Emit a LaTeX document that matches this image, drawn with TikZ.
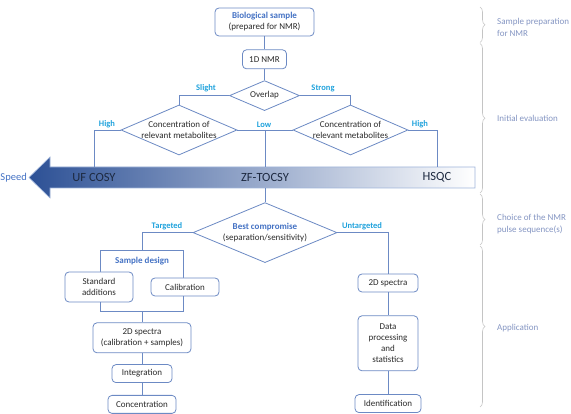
\documentclass[tikz,border=0pt]{standalone}
\usepackage{fontspec}
\setmainfont{Carlito}
\usetikzlibrary{shapes.geometric, positioning, decorations.pathreplacing}
\definecolor{boxline}{HTML}{6C8AC4}
\definecolor{titleblue}{HTML}{4472C4}
\definecolor{branchcyan}{HTML}{1FA2DC}
\definecolor{phasetxt}{HTML}{8495C2}
\definecolor{bracegray}{HTML}{C4C4C4}
\definecolor{arrowdark}{HTML}{2C5095}
\definecolor{arrowmid}{HTML}{A7BBE0}
\definecolor{arrowedge}{HTML}{9FB4DA}
\definecolor{techtxt}{HTML}{1D2940}
\definecolor{bodytxt}{HTML}{2B2B2B}
\tikzset{
  pbox/.style   ={rectangle, rounded corners=4pt, draw=boxline, fill=white, line width=0.8pt,
                  align=center, inner sep=0pt, text=bodytxt, font=\fontsize{9}{11}\selectfont},
  dbox/.style   ={diamond, draw=boxline, fill=white, line width=0.8pt, inner sep=-1pt,
                  align=center, text=bodytxt, font=\fontsize{9}{11}\selectfont},
  grp/.style    ={rectangle, draw=boxline, line width=0.8pt, inner sep=0pt},
  ttl/.style    ={text=titleblue, font=\fontsize{9}{11}\selectfont\bfseries, inner sep=0pt},
  branch/.style ={text=branchcyan, font=\fontsize{8.5}{10}\selectfont\bfseries, inner sep=0pt},
  tech/.style   ={text=techtxt, font=\fontsize{12.5}{14}\selectfont, inner sep=0pt, minimum height=21pt},
  phase/.style  ={text=phasetxt, anchor=west, align=left, inner sep=0pt, font=\fontsize{9}{11.5}\selectfont},
  brk/.style    ={draw=bracegray, line width=0.6pt, decorate, decoration={brace, amplitude=5pt}},
  link/.style   ={draw=boxline, line width=0.8pt},
}

\begin{document}
\begin{tikzpicture}[x=1pt, y=-1pt]
    \useasboundingbox (0,0) rectangle (571,414);
    % speed arrow
    \shade[left color=arrowdark, middle color=arrowmid, right color=white, draw=arrowedge, line width=0.6pt]
      (475,167) -- (50,167) -- (50,157) -- (29,177.5) -- (50,198) -- (50,188) -- (475,188) -- cycle;
    \node[tech] (ufc) at (94,177.5) {UF COSY};
    \node[tech] (zf) at (265,177.5) {ZF-TOCSY};
    \node[tech] (hsqc) at (437,177.5) {HSQC};
    \node[tech, text=titleblue, font=\fontsize{10.5}{12}\selectfont, anchor=east] (spd) at (27,177.5) {Speed};
    % initial evaluation
    \node[pbox, minimum width=99pt, minimum height=28pt] (bio) at (264.5,22)
      {\textcolor{titleblue}{\textbf{Biological sample}}\\(prepared for NMR)};
    \node[pbox, below=13pt of bio, minimum width=44pt, minimum height=19pt] (nmr) {1D NMR};
    \node[dbox, below=11pt of nmr, aspect=2.33, minimum width=70pt, minimum height=30pt] (ovl) {Overlap};
    \node[dbox, aspect=2.32, minimum width=116pt, minimum height=50pt] (concl) at (179,130)
      {Concentration of\\relevant metabolites};
    \node[dbox, aspect=2.3, minimum width=115pt, minimum height=50pt] (concr) at (350.5,130)
      {Concentration of\\relevant metabolites};
    \coordinate (lowpt) at (zf.north |- concl.east);
    \node[branch, anchor=south] (lslight) at (206,92) {Slight};
    \node[branch, anchor=south] (lstrong) at (323,92) {Strong};
    \node[branch, anchor=south] (lhighl) at (107,128) {High};
    \node[branch, anchor=south] (llow) at (264,128) {Low};
    \node[branch, anchor=south] (lhighr) at (420,128) {High};
    % choice of the pulse sequence
    \node[dbox, below=14pt of zf, aspect=2.4, minimum width=144pt, minimum height=60pt] (best)
      {\textcolor{titleblue}{\textbf{Best compromise}}\\(separation/sensitivity)};
    \node[branch, anchor=south] (ltarg) at (167,230) {Targeted};
    \node[branch, anchor=south] (luntarg) at (362,230) {Untargeted};
    % targeted branch
    \node[grp, minimum width=83pt, minimum height=61pt] (sd) at (142,280.5) {};
    \node[ttl, anchor=north] (sdlbl) at ([yshift=-7pt]sd.north) {Sample design};
    \node[pbox, minimum width=68pt, minimum height=30pt] (std) at (99,287) {Standard\\additions};
    \node[pbox, minimum width=68pt, minimum height=18pt] (cal) at (185,287) {Calibration};
    \node[pbox, below=11pt of sd, minimum width=98pt, minimum height=30pt] (sp2)
      {2D spectra\\(calibration + samples)};
    \node[pbox, below=11pt of sp2, minimum width=60pt, minimum height=18pt] (integ) {Integration};
    \node[pbox, below=12pt of integ, minimum width=68pt, minimum height=18pt] (conc) {Concentration};
    % untargeted branch
    \node[pbox, minimum width=60pt, minimum height=18pt] (spr) at (388,283) {2D spectra};
    \node[pbox, below=23pt of spr, minimum width=60pt, minimum height=55pt] (dp)
      {Data\\processing\\and\\statistics};
    \node[pbox, below=23pt of dp, minimum width=66pt, minimum height=18pt] (ident) {Identification};
    % phases
    \draw[brk] (480,7) -- (480,42.5);
    \draw[brk] (480,43.5) -- (480,193);
    \draw[brk] (480,194) -- (480,245);
    \draw[brk] (480,246) -- (480,407);
    \node[phase] (ph1) at (497,27.5) {Sample preparation\\for NMR};
    \node[phase] (ph2) at (497,118) {Initial evaluation};
    \node[phase] (ph3) at (497,224) {Choice of the NMR\\pulse sequence(s)};
    \node[phase] (ph4) at (497,328) {Application};
    % connectors
    \draw[link] (bio) -- (nmr);
    \draw[link] (nmr) -- (ovl);
    \draw[link] (ovl.west) -| (concl.north);
    \draw[link] (ovl.east) -| (concr.north);
    \draw[link] (concl.west) -| (ufc.north);
    \draw[link] (concl.east) -- (concr.west);
    \draw[link] (lowpt) -- (zf.north);
    \draw[link] (concr.east) -| (hsqc.north);
    \draw[link] (zf.south) -- (best.north);
    \draw[link] (best.west) -| (sd.north);
    \draw[link] (best.east) -| (spr.north);
    \draw[link] (sd.south) -- (sp2.north);
    \draw[link] (sp2) -- (integ);
    \draw[link] (integ) -- (conc);
    \draw[link] (spr) -- (dp);
    \draw[link] (dp) -- (ident);
  \end{tikzpicture}
\end{document}
